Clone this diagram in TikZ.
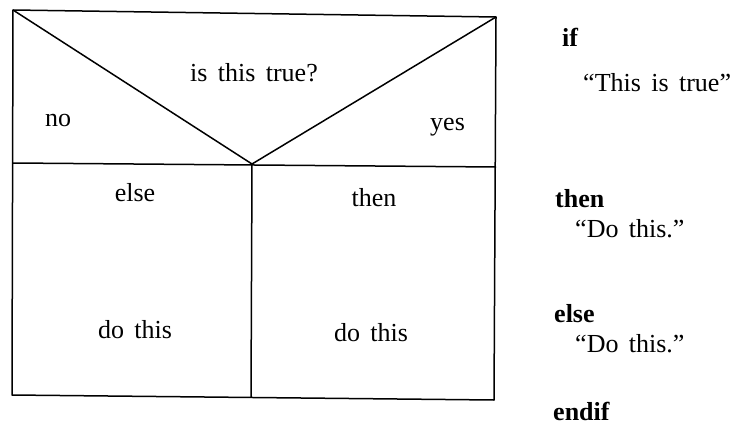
\documentclass[tikz,border=0pt]{standalone}
\usepackage{fontspec}
\setmainfont{Liberation Serif}
\newcommand{\widespaces}{\spaceskip=0.4em plus 0.1em minus 0.05em\relax}
\begin{document}
\begin{tikzpicture}[x=1pt,y=-1pt,
  txt/.style={inner sep=0pt,font=\fontsize{26}{30}\selectfont\widespaces},
  kw/.style={inner sep=0pt,anchor=base west,font=\fontsize{26}{30}\selectfont\bfseries},
  qt/.style={inner sep=0pt,anchor=base west,font=\fontsize{26}{30}\selectfont\widespaces},
  frame/.style={line width=1.5pt,line join=round}]
\useasboundingbox (0,0) rectangle (738,425);
% frame corners
\coordinate (TL) at (13,10);
\coordinate (TR) at (496,17);
\coordinate (ML) at (13,163);
\coordinate (MR) at (496,167);
\coordinate (BL) at (12,395);
\coordinate (BR) at (494,400);
\coordinate (AP) at (252,164);
\coordinate (DB) at (251,397);
\draw[frame] (TL) -- (TR) -- (BR) -- (BL) -- cycle;
\draw[frame] (ML) -- (MR);
\draw[frame] (TL) -- (AP) -- (TR);
\draw[frame] (AP) -- (DB);
% texts in the box
\node[txt,anchor=base] (q) at (254,82) {is this true?};
\node[txt,anchor=base west] (no) at (45,126) {no};
\node[txt,anchor=base west] (yes) at (430,131) {yes};
\node[txt,anchor=base] (el) at (135,201) {else};
\node[txt,anchor=base] (th) at (374,206) {then};
\node[txt,anchor=base] (d1) at (135,338) {do this};
\node[txt,anchor=base] (d2) at (371,341) {do this};
% pseudo code
\node[kw] (kif) at (562,47) {if};
\node[qt] (cond) at (583,92) {``This is true''};
\node[kw] (kthen) at (555,207) {then};
\node[qt] (act1) at (575,237) {``Do this.''};
\node[kw] (kelse) at (554,322) {else};
\node[qt] (act2) at (575,352) {``Do this.''};
\node[kw] (kend) at (553,420) {endif};
\end{tikzpicture}
\end{document}
